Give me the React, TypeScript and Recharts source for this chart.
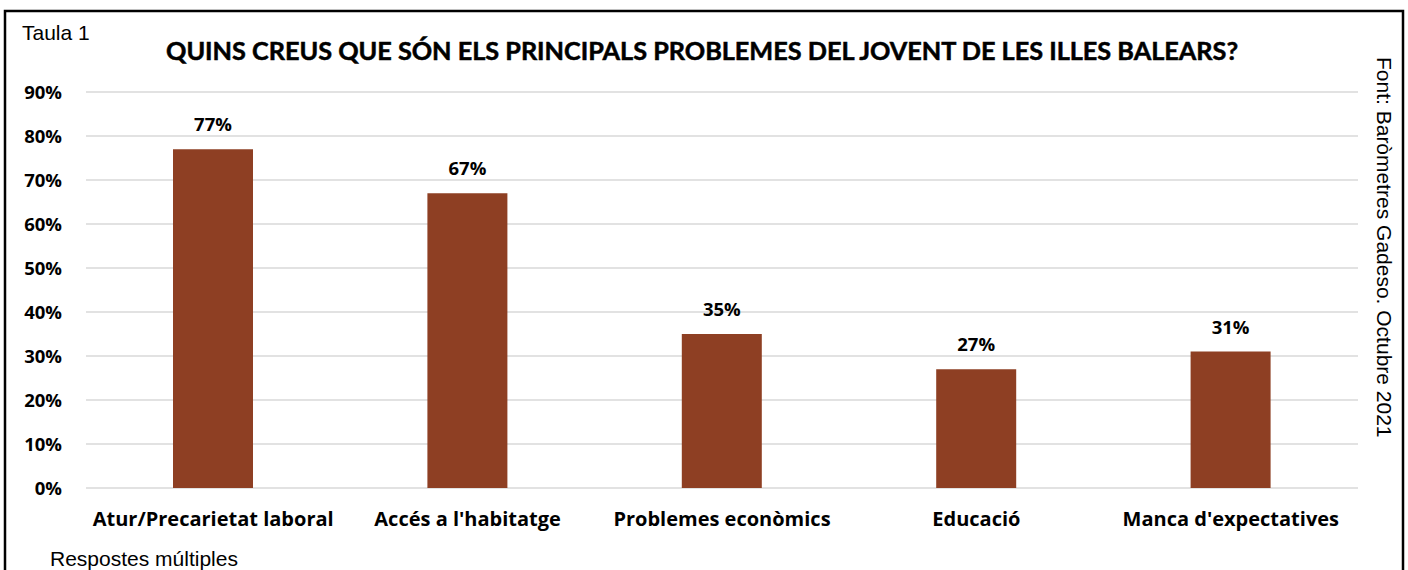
import React from 'react';
import { BarChart, Bar, XAxis, YAxis, CartesianGrid, LabelList } from 'recharts';

const categories = [
  'Atur/Precarietat laboral',
  "Accés a l'habitatge",
  'Problemes econòmics',
  'Educació',
  "Manca d'expectatives",
];
const values = [77, 67, 35, 27, 31];
const yTicks = [0, 10, 20, 30, 40, 50, 60, 70, 80, 90];
const title = 'QUINS CREUS QUE SÓN ELS PRINCIPALS PROBLEMES DEL JOVENT DE LES ILLES BALEARS?';
const tableLabel = 'Taula 1';
const footNote = 'Respostes múltiples';
const sourceNote = 'Font: Baròmetres Gadeso. Octubre 2021';

const data = categories.map((c, i) => ({ name: c, value: values[i] }));

const BOLD = '"Open Sans", Lato, sans-serif';
const TITLE = 'Lato, "Open Sans", sans-serif';
const ARIAL = '"Liberation Sans", Arial, sans-serif';

const YTick = (props: any) => {
  const { x, y, payload } = props;
  return (
    <text x={x} y={y} dy="0.36em" textAnchor="end" fontFamily={BOLD} fontWeight={700} fontSize={18.5} fill="#000">
      {payload.value}%
    </text>
  );
};

const XTick = (props: any) => {
  const { x, y, payload } = props;
  return (
    <text x={x} y={y} textAnchor="middle" fontFamily={BOLD} fontWeight={700} fontSize={20} fill="#000">
      {payload.value}
    </text>
  );
};

export default function App() {
  return (
    <div style={{ position: 'absolute', left: 0, top: 0, width: 1408, height: 570, overflow: 'hidden', background: '#fff' }}>
      <BarChart width={1408} height={570} data={data} margin={{ top: 92, right: 50, bottom: 52, left: 0 }}>
        <CartesianGrid vertical={false} stroke="#D9D9D9" strokeWidth={1.5} />
        <XAxis dataKey="name" axisLine={false} tickLine={false} height={30} tickMargin={32} tick={<XTick />} interval={0} />
        <YAxis width={86} domain={[0, 90]} ticks={yTicks} axisLine={false} tickLine={false} tickMargin={18} tick={<YTick />} interval={0} />
        <Bar dataKey="value" fill="#8E3F23" barSize={80} isAnimationActive={false}>
          <LabelList
            dataKey="value"
            position="top"
            offset={18}
            formatter={(v: any) => `${v}%`}
            style={{ fontFamily: BOLD, fontWeight: 700, fontSize: 18.5, fill: '#000' }}
          />
        </Bar>
      </BarChart>
      <svg width={1408} height={570} style={{ position: 'absolute', left: 0, top: 0, pointerEvents: 'none' }}>
        <rect x={5} y={11} width={1398} height={620} fill="none" stroke="#000" strokeWidth={2.5} />
        <text x={22} y={40} fontFamily={ARIAL} fontSize={21} fill="#000">{tableLabel}</text>
        <text x={702} y={60} textAnchor="middle" fontFamily={TITLE} fontWeight={700} fontSize={24} fill="#000" stroke="#000" strokeWidth={0.5} textLength={1072} lengthAdjust="spacingAndGlyphs">{title}</text>
        <text x={50} y={566} fontFamily={ARIAL} fontSize={21} fill="#000">{footNote}</text>
        <text x={0} y={0} transform="translate(1377,57) rotate(90)" fontFamily={ARIAL} fontSize={21} fill="#000">{sourceNote}</text>
      </svg>
    </div>
  );
}
